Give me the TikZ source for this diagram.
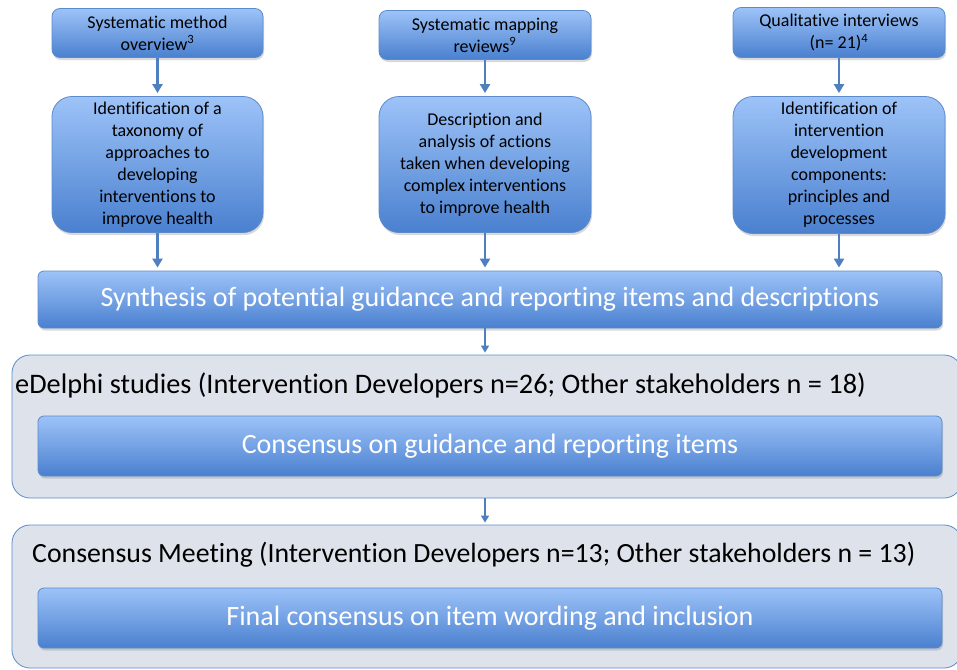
\documentclass[tikz,border=0pt]{standalone}
\usepackage{fontspec}
\setmainfont{Carlito}[Ligatures=NoCommon]
\usetikzlibrary{arrows.meta,shadows}
\definecolor{boxtop}{HTML}{9DC3F8}
\definecolor{boxbot}{HTML}{4A80CF}
\definecolor{boxline}{HTML}{5B8BCB}
\definecolor{arrowblue}{HTML}{4E80BF}
\definecolor{panelfill}{HTML}{DEE3EB}
\begin{document}
\begin{tikzpicture}[x=1pt,y=-1pt,
    bluebox/.style={draw=boxline, line width=0.8pt, top color=boxtop, bottom color=boxbot,
      align=center, inner sep=2pt,
      drop shadow={opacity=0.3, shadow xshift=1pt, shadow yshift=-2.5pt}},
    smallbox/.style={bluebox, rounded corners=8pt, font=\fontsize{18}{22}\selectfont},
    tallbox/.style={bluebox, rounded corners=20pt, font=\fontsize{18}{22}\selectfont},
    widebox/.style={bluebox, rounded corners=6pt, text=white, font=\fontsize{28}{32}\selectfont},
    panel/.style={draw=boxline, line width=0.8pt, fill=panelfill, rounded corners=18pt},
    paneltext/.style={anchor=west, inner sep=0pt, font=\fontsize{28.3}{32}\selectfont},
    flowarrow/.style={draw=arrowblue, line width=2.6pt, -{Triangle[length=9pt,width=10pt]}, shorten >=3pt},
    thinarrow/.style={draw=arrowblue, line width=1.4pt, -{Triangle[length=7pt,width=8pt]}, shorten >=2pt}]
  \useasboundingbox (0,0) rectangle (957,669);
  % sources
  \node[smallbox, minimum width=211pt, minimum height=49pt] (overview) at (157.5,33) {Systematic method\\overview\textsuperscript{3}};
  \node[smallbox, minimum width=212pt, minimum height=49pt] (mapping) at (485,35) {Systematic mapping\\reviews\textsuperscript{9}};
  \node[smallbox, minimum width=212pt, minimum height=50pt] (interviews) at (839,32.5) {Qualitative interviews\\(n= 21)\textsuperscript{4}};
  % findings
  \node[tallbox, minimum width=211pt, minimum height=136pt] (taxonomy) at (157.5,164.5) {Identification of a\\taxonomy of\\approaches to\\developing\\interventions to\\improve health};
  \node[tallbox, minimum width=212pt, minimum height=136pt] (actions) at (485,164.5) {Description and\\analysis of actions\\taken when developing\\complex interventions\\to improve health};
  \node[tallbox, minimum width=212pt, minimum height=137pt] (components) at (839,165) {Identification of\\intervention\\development\\components:\\principles and\\processes};
  % synthesis
  \node[widebox, minimum width=904pt, minimum height=57pt] (synthesis) at (490,299.5) {Synthesis of potential guidance and reporting items and descriptions};
  % eDelphi
  \node[panel, minimum width=950pt, minimum height=143pt] (edelphi) at (487,426.5) {};
  \node[paneltext] (edelphilabel) at (15,385) {eDelphi studies (Intervention Developers n=26; Other stakeholders n = 18)};
  \node[widebox, minimum width=904pt, minimum height=60pt] (items) at (490,446) {Consensus on guidance and reporting items};
  % meeting
  \node[panel, minimum width=950pt, minimum height=143pt] (meeting) at (487,596.5) {};
  \node[paneltext, font=\fontsize{27.8}{32}\selectfont] (meetinglabel) at (32,555) {Consensus Meeting (Intervention Developers n=13; Other stakeholders n = 13)};
  \node[widebox, minimum width=904pt, minimum height=60pt] (final) at (490,618) {Final consensus on item wording and inclusion};
  % arrows
  \draw[flowarrow] (overview) -- (taxonomy);
  \draw[flowarrow] (mapping) -- (actions);
  \draw[flowarrow] (interviews) -- (components);
  \draw[flowarrow] (taxonomy.south) -- (taxonomy.south |- synthesis.north);
  \draw[flowarrow] (actions.south) -- (actions.south |- synthesis.north);
  \draw[flowarrow] (components.south) -- (components.south |- synthesis.north);
  \draw[thinarrow] (actions.south |- synthesis.south) -- (actions.south |- edelphi.north);
  \draw[thinarrow] (actions.south |- edelphi.south) -- (actions.south |- meeting.north);
\end{tikzpicture}
\end{document}
